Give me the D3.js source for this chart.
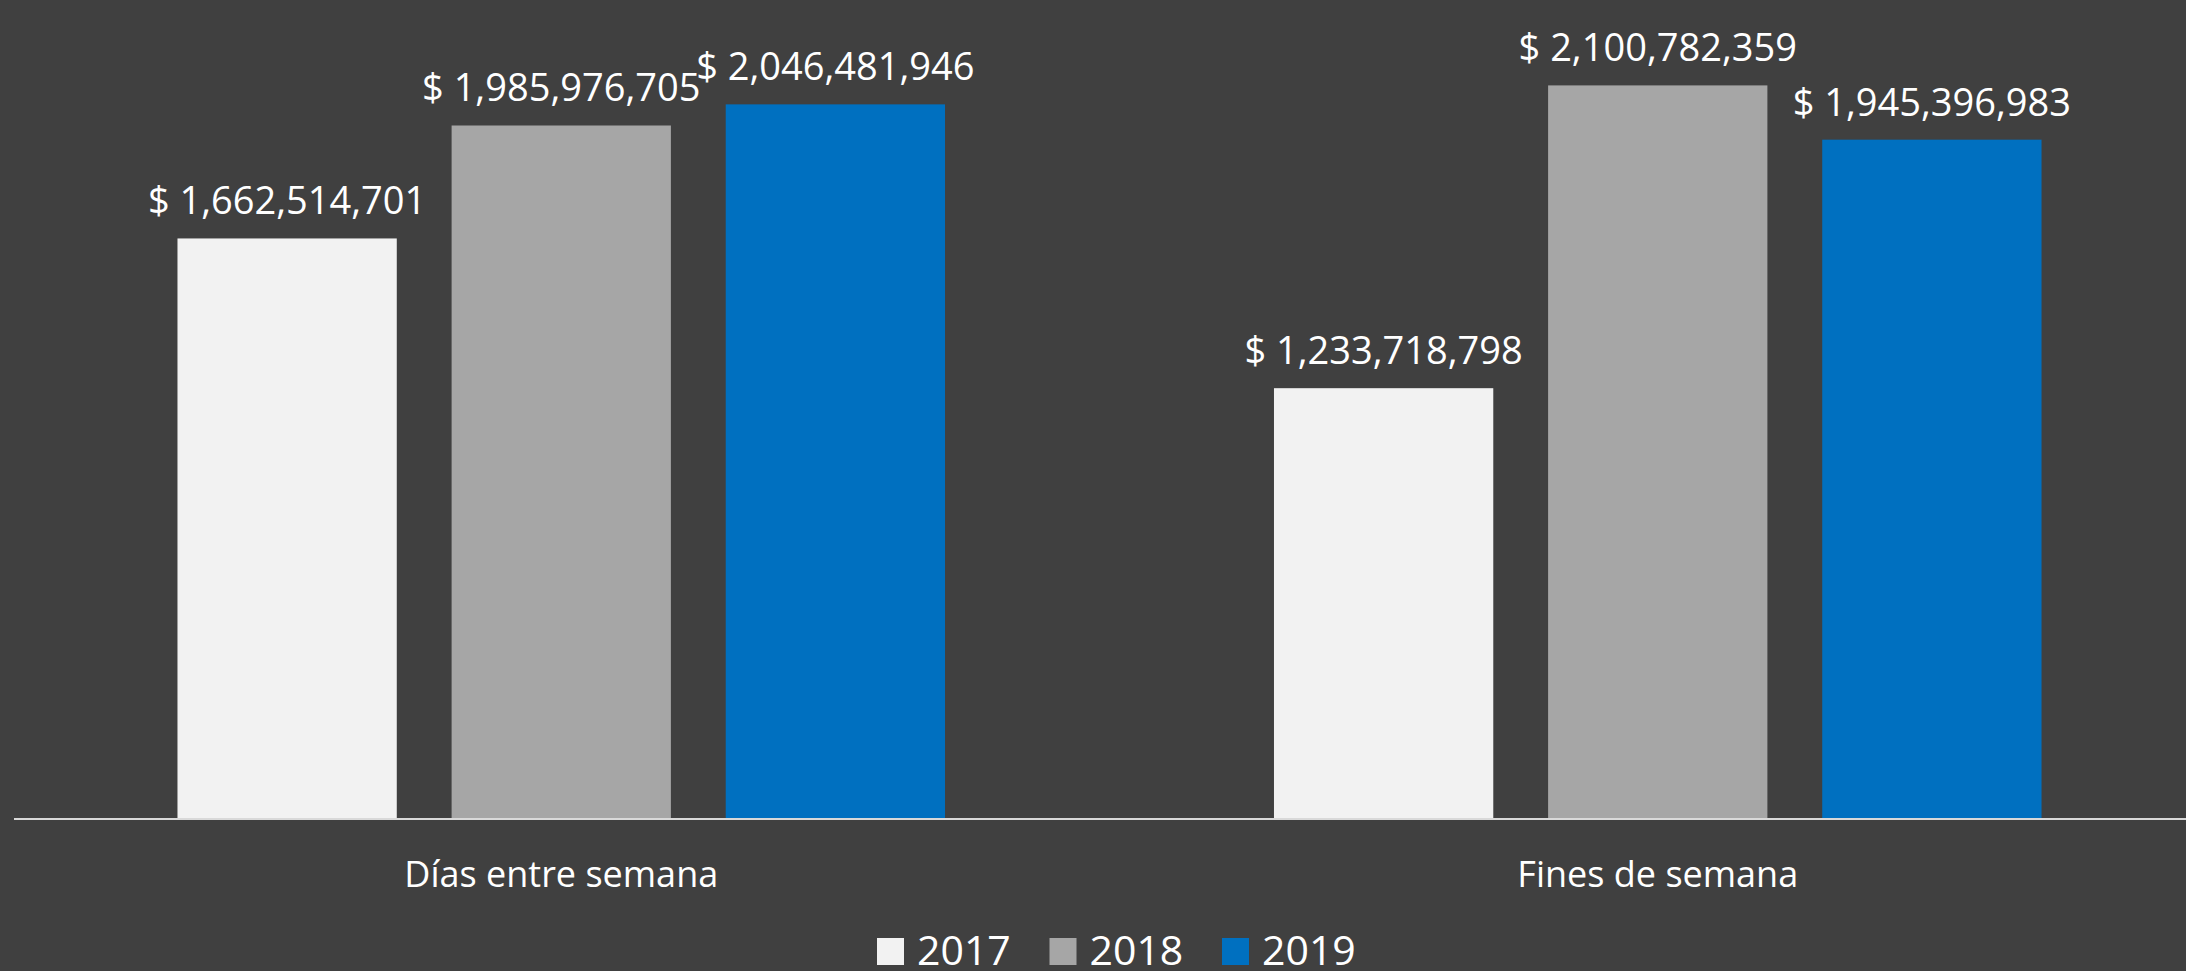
<!DOCTYPE html>
<html>
<head>
<meta charset="utf-8">
<script src="https://cdn.jsdelivr.net/npm/d3@7"></script>
<style>
  html, body { margin: 0; padding: 0; background: #404040; overflow: hidden; }
  svg { display: block; }
  .value-label { font-family: "Open Sans", sans-serif; font-size: 38px; fill: #ffffff; }
  .category-label { font-family: "Open Sans", sans-serif; font-size: 36px; fill: #ffffff; }
  .legend-label { font-family: "Open Sans", sans-serif; font-size: 41px; fill: #ffffff; }
</style>
</head>
<body>
<svg id="chart"></svg>
<script>
const categories = ['Días entre semana', 'Fines de semana'];
const years = ['2017', '2018', '2019'];
const values2017 = [1662514701, 1233718798];
const values2018 = [1985976705, 2100782359];
const values2019 = [2046481946, 1945396983];
const colors = ['#f2f2f2', '#a6a6a6', '#0070c0'];

const WIDTH = 2186;
const HEIGHT = 971;
const BASELINE = 819;
const PX_PER_BILLION = 349.2;

const series = [values2017, values2018, values2019];
const data = categories.map((c, i) => ({
  category: c,
  values: years.map((y, j) => ({year: y, value: series[j][i]}))
}));

const svg = d3.select('#chart')
  .attr('width', WIDTH)
  .attr('height', HEIGHT);

svg.append('rect')
  .attr('width', WIDTH)
  .attr('height', HEIGHT)
  .attr('fill', '#404040');

const x0 = d3.scaleBand()
  .domain(categories)
  .range([13, 2206])
  .padding(0);

const x1 = d3.scaleBand()
  .domain(years)
  .range([0, x0.bandwidth()])
  .paddingInner(0.2)
  .paddingOuter(0.6);

const yMax = BASELINE / PX_PER_BILLION * 1e9;
const y = d3.scaleLinear()
  .domain([0, yMax])
  .range([BASELINE, 0]);

const color = d3.scaleOrdinal()
  .domain(years)
  .range(colors);

const groups = svg.selectAll('.group')
  .data(data)
  .enter()
  .append('g')
  .attr('class', 'group')
  .attr('transform', (d) => `translate(${x0(d.category)},0)`);

groups.selectAll('rect')
  .data((d) => d.values)
  .enter()
  .append('rect')
  .attr('x', (d) => x1(d.year))
  .attr('y', (d) => y(d.value))
  .attr('width', x1.bandwidth())
  .attr('height', (d) => y(0) - y(d.value))
  .attr('fill', (d) => color(d.year));

groups.selectAll('.value-label')
  .data((d) => d.values)
  .enter()
  .append('text')
  .attr('class', 'value-label')
  .attr('x', (d) => x1(d.year) + x1.bandwidth() / 2)
  .attr('y', (d) => y(d.value) - 24)
  .attr('text-anchor', 'middle')
  .text((d) => '$ ' + d3.format(',')(d.value));

// category axis along the bottom
const xAxis = d3.axisBottom(x0)
  .tickSize(0)
  .tickPadding(0);

const axis = svg.append('g')
  .attr('transform', `translate(0,${BASELINE})`)
  .call(xAxis);

axis.select('.domain')
  .attr('d', `M14,0H${WIDTH}`)
  .attr('stroke', '#d9d9d9')
  .attr('stroke-width', 2);

axis.selectAll('.tick text')
  .attr('class', 'category-label')
  .attr('fill', null)
  .attr('font-family', null)
  .attr('font-size', null)
  .attr('dy', null)
  .attr('y', 68);

// legend
const legend = svg.append('g')
  .attr('transform', 'translate(877,938)');

const item = legend.selectAll('.legend-item')
  .data(years)
  .enter()
  .append('g')
  .attr('class', 'legend-item')
  .attr('transform', (d, i) => `translate(${i * 172.5},0)`);

item.append('rect')
  .attr('width', 27)
  .attr('height', 27)
  .attr('fill', (d) => color(d));

item.append('text')
  .attr('class', 'legend-label')
  .attr('x', 40)
  .attr('y', 27)
  .text((d) => d);
</script>
</body>
</html>
